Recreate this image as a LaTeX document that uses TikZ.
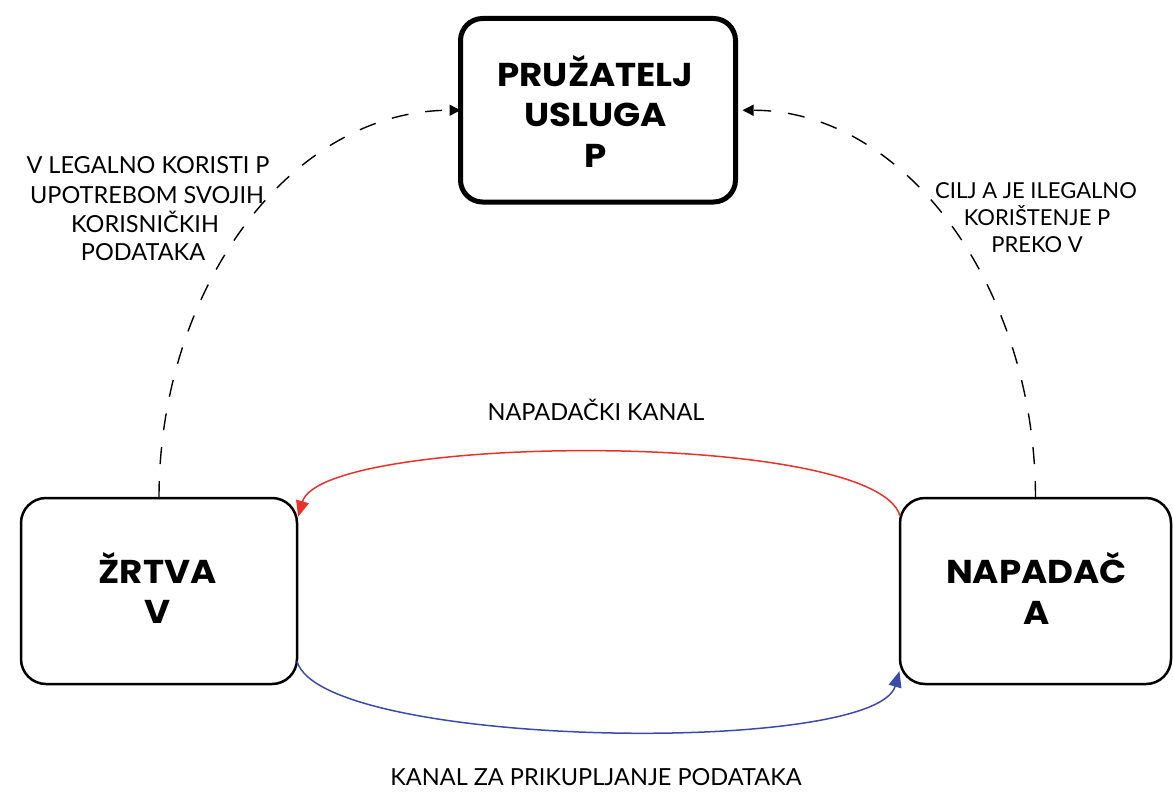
\documentclass[tikz,border=0pt]{standalone}
\usepackage{fontspec}
\setmainfont{Lato}
\newfontfamily\boxfont{Poppins}[FakeStretch=1.08]
\usetikzlibrary{arrows.meta}
\definecolor{redc}{HTML}{E8322A}
\definecolor{bluec}{HTML}{3C4BA8}
\begin{document}
\begin{tikzpicture}[x=1pt,y=-1pt,
  topbox/.style={draw, line width=5pt, rounded corners=22pt, minimum width=275pt, minimum height=183.5pt, inner sep=0pt, outer sep=0pt},
  sidebox/.style={draw, line width=2.5pt, rounded corners=25pt, minimum width=#1, minimum height=186pt, inner sep=0pt, outer sep=0pt},
  boxtxt/.style={anchor=base, inner sep=0pt, font=\boxfont\bfseries\fontsize{33}{33}\selectfont},
  lbl/.style={anchor=base, inner sep=0pt, font=\fontsize{#1}{#1}\selectfont},
  dashcon/.style={line width=1.4pt, dash pattern=on 17pt off 17pt, -{Triangle[length=11pt,width=11pt]}},
  chan/.style={line width=1.5pt, -{Triangle[length=16pt,width=13pt]}}
]
\useasboundingbox (0,0) rectangle (1173,792);

% boxes
\node[topbox] (top) at (598,110.25) {};
\node[sidebox=276pt] (vic) at (159,591) {};
\node[sidebox=271pt] (att) at (1035.5,591) {};

% box texts
\node[boxtxt] (t1) at (595.5,86) {PRUŽATELJ};
\node[boxtxt] (t2) at (595.5,126) {USLUGA};
\node[boxtxt] (t3) at (595.5,167) {P};
\node[boxtxt] (v1) at (157.5,583) {ŽRTVA};
\node[boxtxt] (v2) at (157.5,623) {V};
\node[boxtxt] (a1) at (1036.5,583) {NAPADAČ};
\node[boxtxt] (a2) at (1036.5,624) {A};

% dashed connectors
\draw[dashcon] (vic.north) .. controls +(0,-210) and +(-170,0) .. (top.west);
\draw[dashcon, shorten >=7pt] (att.north) .. controls +(0,-210) and +(170,0) .. (top.east);

% channels
\draw[chan, redc, shorten >=4pt] (att.151.68) .. controls +(-25,-87) and +(25,-87) .. (vic.27.55);
\draw[chan, bluec, shorten >=2pt] (vic.-27.88) .. controls +(25,87) and +(-25,87) .. (att.210.87);

% labels
\node[lbl=23.5] (l1) at (148,173) {V LEGALNO KORISTI P};
\node[lbl=23.5] (l2) at (147,203) {UPOTREBOM SVOJIH};
\node[lbl=23.5] (l3) at (145,232) {KORISNIČKIH};
\node[lbl=23.5] (l4) at (143,260) {PODATAKA};
\node[lbl=22] (r1) at (1036,198) {CILJ A JE ILEGALNO};
\node[lbl=22] (r2) at (1037,225) {KORIŠTENJE P};
\node[lbl=22] (r3) at (1037,252) {PREKO V};
\node[lbl=23.5] (nk) at (596,420) {NAPADAČKI KANAL};
\node[lbl=23.5] (kp) at (596,785) {KANAL ZA PRIKUPLJANJE PODATAKA};
\end{tikzpicture}
\end{document}
